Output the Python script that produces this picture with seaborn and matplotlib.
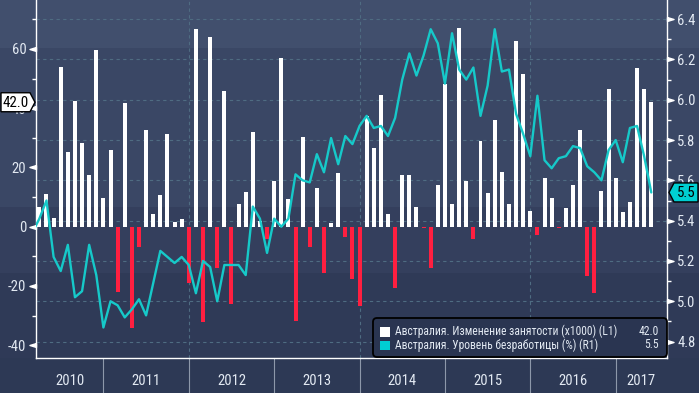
import numpy as np
import pandas as pd
import matplotlib
matplotlib.use("Agg")
import matplotlib.pyplot as plt
from matplotlib import font_manager as fm
from matplotlib.patches import Rectangle, Polygon, FancyBboxPatch
from matplotlib.lines import Line2D
from matplotlib.path import Path
from matplotlib.transforms import IdentityTransform, blended_transform_factory
import seaborn as sns

# Monthly data (end of month), Feb 2010 .. May 2017
start_month = "2010-02"
end_month = "2017-05"

# Employment change, thousands (Mar 2010 .. May 2017)
employment_change = [
    6.8, 11.2, 3.1, 53.9, 25.1, 42.4, 28.1, 17.3, 59.7, 9.8,
    25.8, -21.9, 41.7, -34.1, -7.0, 32.5, 4.4, 10.8, 31.2, 1.7, 2.7, -18.9,
    66.8, -32.1, 64.1, -14.1, 45.8, -26.0, 7.5, 11.6, 32.0, 1.8, -4.0, 15.3,
    56.9, 9.2, -31.8, 30.2, -6.7, 13.2, -15.5, 1.4, 18.0, -3.6, -17.5, -26.7,
    37.4, 26.4, 44.4, 4.4, -20.6, 17.6, 17.3, 6.8, -0.6, -13.8, 14.2, 48.1,
    7.5, 67.1, 15.3, -4.3, 28.8, 11.5, 35.9, 18.3, 7.5, 62.7, 51.5, 5.4,
    -2.9, 16.3, 9.8, -0.3, 6.4, 14.2, 32.5, -16.8, -22.3, 12.2, 46.4, 16.3,
    5.1, 8.5, 53.6, 46.4, 42.0,
]

# Unemployment rate, % (Feb 2010 .. May 2017)
unemployment_rate = [
    5.34, 5.41, 5.50, 5.22, 5.15, 5.28, 5.02, 5.05, 5.28, 5.13, 4.87,
    5.00, 4.98, 4.92, 4.96, 5.01, 4.93, 5.09, 5.25, 5.22, 5.19, 5.22, 5.18,
    5.04, 5.20, 5.17, 5.00, 5.18, 5.18, 5.18, 5.13, 5.47, 5.41, 5.24, 5.41,
    5.37, 5.41, 5.63, 5.60, 5.59, 5.73, 5.64, 5.81, 5.68, 5.82, 5.78, 5.87,
    5.92, 5.86, 5.87, 5.82, 5.91, 6.10, 6.23, 6.12, 6.22, 6.35, 6.28, 6.08,
    6.33, 6.15, 6.10, 6.16, 5.92, 6.07, 6.35, 6.14, 6.15, 5.93, 5.83, 5.72,
    6.02, 5.70, 5.66, 5.71, 5.72, 5.77, 5.76, 5.67, 5.64, 5.60, 5.75, 5.80,
    5.69, 5.86, 5.87, 5.72, 5.54,
]

years = [2010, 2011, 2012, 2013, 2014, 2015, 2016, 2017]
left_ticks = [-40, -20, 0, 20, 40, 60]
right_ticks = [4.8, 5.0, 5.2, 5.4, 5.6, 5.8, 6.0, 6.2, 6.4]
legend_labels = ["Австралия. Изменение занятости (x1000) (L1)",
                 "Австралия. Уровень безработицы (%) (R1)"]

BG_BANDS = [(0, 48, "#414f6d"), (48, 207, "#3a4765"), (207, 273, "#343f5d"), (273, 358, "#2f3a57")]
BG_BOTTOM = "#2d3955"
RED = "#ff1f40"
CYAN = "#16c9c9"
GRID = "#4f6c82"
TXT = "#e2e9f2"

W, H = 699, 393

sns.set_style("dark", {"axes.facecolor": "none", "figure.facecolor": BG_BOTTOM})

# pick a narrow sans face if one is installed
installed = {f.name for f in fm.fontManager.ttflist}
family, stretch = "DejaVu Sans", "normal"
for cand in ["Liberation Sans Narrow", "Roboto Condensed", "Noto Sans Condensed",
             "Open Sans Condensed", "Arial Narrow"]:
    if cand in installed:
        family = cand
        break
else:
    if any(f.name == "DejaVu Sans" and "condensed" in str(f.stretch) for f in fm.fontManager.ttflist):
        stretch = "condensed"
plt.rcParams["font.family"] = [family, "DejaVu Sans"]
plt.rcParams["font.stretch"] = stretch

months = pd.period_range(start_month, end_month, freq="M")
df = pd.DataFrame({
    "x": months.year + months.month / 12.0,
    "rate": unemployment_rate,
    "emp": [np.nan] + employment_change,
})
bars = df.dropna(subset=["emp"]).copy()
bars["sign"] = np.where(bars["emp"] >= 0, "pos", "neg")

fig = plt.figure(figsize=(W / 100, H / 100), dpi=100)
renderer = fig.canvas.get_renderer()


def fit_size(s, width_px, base=10.0):
    # font size that makes string s about width_px wide
    prop = fm.FontProperties(family=[family, "DejaVu Sans"], stretch=stretch, size=base)
    w, _, _ = renderer.get_text_width_height_descent(s, prop, ismath=False)
    return base * width_px / w


tick_fs = min(fit_size("2010", 33), 10.5)
leg_fs = min(fit_size(legend_labels[0], 222), 9)
tag_fs = min(fit_size("42.0", 26), 11.5)

ax = fig.add_axes([35.7 / W, 35.3 / H, 631.3 / W, 357.7 / H])
ax.set_facecolor("none")

# background bands across the whole width
for top, bot, c in BG_BANDS:
    fig.add_artist(Rectangle((0, H - bot), W, bot - top, transform=IdentityTransform(),
                             fc=c, ec="none", zorder=-10))

sns.barplot(data=bars, x="x", y="emp", hue="sign", palette={"pos": "white", "neg": RED},
            native_scale=True, width=0.56, dodge=False, errorbar=None, legend=False,
            saturation=1, linewidth=0, zorder=3, ax=ax)

ax2 = ax.twinx()
ax2.set_facecolor("none")
sns.lineplot(data=df, x="x", y="rate", color=CYAN, lw=1.7, errorbar=None, ax=ax2, zorder=5)

ax.set_xlim(2010.207, 2017.601)
ax.set_ylim(-44.2, 76.5)
ax2.set_ylim(4.72, 6.495)
for a in (ax, ax2):
    a.set_xlabel("")
    a.set_ylabel("")
    a.grid(False)

# horizontal grid at right-axis ticks, drawn behind bars
gtr = blended_transform_factory(ax.transAxes, ax2.transData)
for v in right_ticks:
    ax.add_line(Line2D([0, 1], [v, v], transform=gtr, color=GRID, lw=0.8,
                       ls=(0, (3, 3)), zorder=1))
for y in years:
    if y % 2 == 0 and ax.get_xlim()[0] < y:
        ax.axvline(y, color=GRID, lw=0.8, ls=(0, (3, 3)), zorder=1)

# spines
ax.spines["top"].set_visible(False)
ax2.spines["top"].set_visible(False)
for s in ("left", "bottom"):
    ax.spines[s].set_color("white")
    ax.spines[s].set_linewidth(1)
ax.spines["right"].set_visible(False)
ax2.spines["right"].set_color("white")
ax2.spines["right"].set_linewidth(1)
ax2.spines["left"].set_visible(False)
ax2.spines["bottom"].set_visible(False)

# x axis: year separators and labels below the plot
ax.set_xticks([])
xl = ax.get_xlim()
ax.vlines(years[1:], -0.1, 0, transform=ax.get_xaxis_transform(), clip_on=False,
          color="#8d98aa", lw=0.8)
for y in years:
    c = (max(y, xl[0]) + min(y + 1, xl[1])) / 2
    ax.text(c, -0.066, str(y), transform=ax.get_xaxis_transform(), ha="center",
            va="center", color=TXT, fontsize=tick_fs)

# y ticks with triangle markers
tri_left = Path([(0, 0.3), (-1, 0), (0, -0.3), (0, 0.3)])
tri_right = Path([(0, 0.3), (1, 0), (0, -0.3), (0, 0.3)])

ax.set_yticks(left_ticks)
ax.set_yticklabels([str(v) for v in left_ticks])
ax.set_yticks(np.arange(-30, 80, 20), minor=True)
ax.tick_params(axis="y", which="major", left=True, length=9.4, width=1, color="white",
               labelcolor=TXT, labelsize=tick_fs, pad=-2.6)
ax.tick_params(axis="y", which="minor", left=True, length=3, width=1, color="white")
for t in ax.yaxis.get_major_ticks():
    t.tick1line.set_marker(tri_left)

ax2.set_yticks(right_ticks)
ax2.set_yticklabels([f"{v:.1f}" for v in right_ticks])
ax2.set_yticks(np.arange(4.9, 6.45, 0.2), minor=True)
ax2.tick_params(axis="y", which="major", right=True, length=9.4, width=1, color="white",
                labelcolor=TXT, labelsize=tick_fs, pad=-2.0)
ax2.tick_params(axis="y", which="minor", right=True, length=3, width=1, color="white")
for t in ax2.yaxis.get_major_ticks():
    t.tick2line.set_marker(tri_right)

# last-value tags on axes
last_emp = employment_change[-1]
last_rate = unemployment_rate[-1]
yl = ax.transData.transform((0, last_emp))[1]
fig.add_artist(Polygon([(1, yl - 9.5), (30, yl - 9.5), (35, yl), (30, yl + 9.5), (1, yl + 9.5)],
                       closed=True, transform=IdentityTransform(), fc="white", ec="black",
                       lw=1, zorder=10))
fig.text(16, yl - 0.5, f"{last_emp:.1f}", transform=IdentityTransform(), ha="center",
         va="center", color="black", fontsize=tag_fs, zorder=11)
yr = ax2.transData.transform((0, last_rate))[1]
fig.add_artist(Polygon([(669, yr), (674, yr - 9.5), (698, yr - 9.5), (698, yr + 9.5), (674, yr + 9.5)],
                       closed=True, transform=IdentityTransform(), fc="#00cfd2", ec="black",
                       lw=1, zorder=10))
fig.text(686, yr - 0.5, f"{last_rate:.1f}", transform=IdentityTransform(), ha="center",
         va="center", color="black", fontsize=tag_fs, zorder=11)

# legend box
fig.add_artist(FancyBboxPatch((373, H - 357), 294, 39, boxstyle="round,pad=0,rounding_size=4",
                              transform=IdentityTransform(), fc="#2a3551", ec="black",
                              lw=1.3, zorder=8))
rows = [(331.5, "white", legend_labels[0], f"{last_emp:.1f}"),
        (345.0, "#00cfd2", legend_labels[1], f"{last_rate:.1f}")]
for py, c, lab, val in rows:
    fig.add_artist(Rectangle((380, H - py - 5), 9.5, 9.5, transform=IdentityTransform(),
                             fc=c, ec="none", zorder=9))
    fig.text(395, H - py, lab, transform=IdentityTransform(), ha="left", va="center",
             color=TXT, fontsize=leg_fs, zorder=9)
    fig.text(659, H - py, val, transform=IdentityTransform(), ha="right", va="center",
             color=TXT, fontsize=leg_fs, zorder=9)

fig.savefig("out.png", dpi=100)
